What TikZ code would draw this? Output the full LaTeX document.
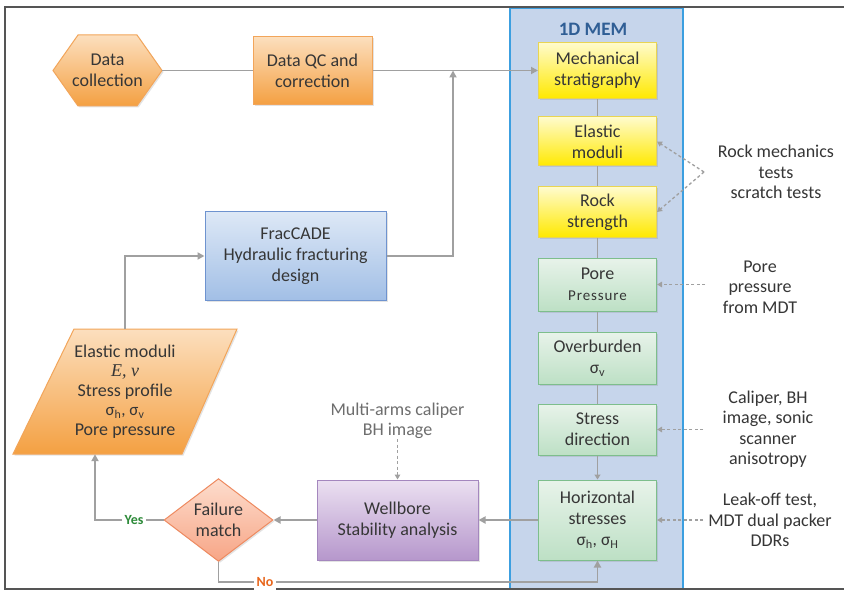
\documentclass[tikz,border=0pt]{standalone}
\usepackage{fontspec}
\setmainfont{Carlito}
\newfontfamily\serifit{Liberation Serif}
\usetikzlibrary{arrows.meta,shapes.geometric,shadows,calc}
\definecolor{txtC}{HTML}{363636}
\definecolor{grayT}{HTML}{6E6E6E}
\definecolor{lineC}{HTML}{A0A0A0}
\definecolor{frameC}{HTML}{555555}
\definecolor{orT}{HTML}{FCDFBE}
\definecolor{orB}{HTML}{F4A042}
\definecolor{orD}{HTML}{F2A55A}
\definecolor{yeT}{HTML}{FFFBCC}
\definecolor{yeB}{HTML}{FFE900}
\definecolor{yeD}{HTML}{E9D552}
\definecolor{grT}{HTML}{E8F3EA}
\definecolor{grB}{HTML}{BDE0C5}
\definecolor{grD}{HTML}{7DBE8C}
\definecolor{blT}{HTML}{DDE8F6}
\definecolor{blB}{HTML}{A2BFE6}
\definecolor{blD}{HTML}{6E93CF}
\definecolor{puT}{HTML}{EBE0F1}
\definecolor{puB}{HTML}{B697CC}
\definecolor{puD}{HTML}{A487BE}
\definecolor{diT}{HTML}{FDDDCD}
\definecolor{diB}{HTML}{F7A586}
\definecolor{diD}{HTML}{EE8A60}
\definecolor{memF}{HTML}{C6D5EB}
\definecolor{memD}{HTML}{3C9FE0}
\definecolor{memT}{HTML}{2F5E95}
\definecolor{yesC}{HTML}{2E8B3A}
\definecolor{noC}{HTML}{E8661C}
\begin{document}
\begin{tikzpicture}[x=1pt,y=-1pt,
  conn/.style={draw=lineC, line width=1.8pt},
  arr/.style={conn, -{Triangle[length=7pt,width=7pt]}},
  sarr/.style={conn, -{Triangle[length=5pt,width=6pt]}},
  darr/.style={draw=lineC, line width=1.3pt, dash pattern=on 3pt off 2.5pt, -{Triangle[length=5pt,width=5.5pt]}},
  shad/.style={drop shadow={opacity=0.22, shadow xshift=1.5pt, shadow yshift=-1.5pt}},
  bx/.style={draw, line width=1pt, align=center, text=txtC, font=\fontsize{18}{21}\selectfont, inner sep=2pt, shad},
  orbox/.style={bx, top color=orT, bottom color=orB, draw=orD},
  yebox/.style={bx, top color=yeT, bottom color=yeB, draw=yeD, minimum width=118pt},
  grbox/.style={bx, top color=grT, bottom color=grB, draw=grD, minimum width=118pt},
  blbox/.style={bx, top color=blT, bottom color=blB, draw=blD},
  pubox/.style={bx, top color=puT, bottom color=puB, draw=puD},
  dibox/.style={bx, diamond, top color=diT, bottom color=diB, draw=diD, inner sep=0pt},
  txtonly/.style={align=center, text=txtC, font=\fontsize{18}{21}\selectfont, inner sep=0pt},
  lbl/.style={align=center, text=txtC, font=\fontsize{18}{20.5}\selectfont, inner sep=0pt},
  yesno/.style={fill=white, inner sep=3pt, font=\bfseries\fontsize{14}{16}\selectfont}
]
\useasboundingbox (0,0) rectangle (844,591);
\fill[white] (0,0) rectangle (844,591);

% 1D MEM band
\node[draw=memD, fill=memF, line width=1.2pt, minimum width=173pt, minimum height=581pt, inner sep=0pt] (mem) at (596.5,298.5) {};
\node[font=\bfseries\fontsize{19}{22}\selectfont, text=memT] (memt) at (593,29) {1D MEM};

% frame
\draw[frameC, line width=2pt] (844,7) -- (5,7) -- (5,589) -- (844,589);

% Data collection hexagon
\path[top color=orT, bottom color=orB, draw=orD, line width=1pt, shad]
  (53,70.5) -- (78,35) -- (137,35) -- (162,70.5) -- (137,106) -- (78,106) -- cycle;
\node[txtonly, minimum width=109pt, minimum height=71pt] (dc) at (107.5,70.5) {Data\\collection};

% Data QC
\node[orbox, minimum width=119pt, minimum height=68pt] (qc) at (312.5,70.5) {Data QC and\\correction};

% FracCADE
\node[blbox, minimum width=181pt, minimum height=88pt] (frac) at (295.5,256) {FracCADE\\Hydraulic fracturing\\design};

% Parallelogram
\path[top color=orT, bottom color=orB, draw=orD, line width=1pt, shad]
  (74,329) -- (237,329) -- (182,454) -- (13,454) -- cycle;
\node[txtonly, minimum width=120pt, minimum height=125pt, font=\fontsize{18}{19.5}\selectfont] (par) at (125,391.5)
  {Elastic moduli\\{\serifit\itshape E, ν}\\Stress profile\\{\fontsize{17}{19.5}\selectfont σ\textsubscript{h}, σ\textsubscript{v}}\\Pore pressure};

% Failure match
\node[dibox, minimum width=109pt, minimum height=82pt] (fm) at (218.5,520) {Failure\\match};

% Wellbore
\node[pubox, minimum width=161pt, minimum height=80pt] (wb) at (397.5,520) {Wellbore\\Stability analysis};

% MEM boxes
\node[yebox, minimum height=56pt] (ms) at (597.5,70.5) {Mechanical\\stratigraphy};
\node[yebox, minimum height=49pt] (em) at (597.5,141.5) {Elastic\\moduli};
\node[yebox, minimum height=50pt] (rs) at (597.5,212) {Rock\\strength};
\node[grbox, minimum height=53pt] (pp) at (597.5,284.5) {Pore\\{\fontsize{15}{19}\selectfont\addfontfeature{LetterSpace=6}Pressure}};
\node[grbox, minimum height=52pt] (ob) at (597.5,358) {Overburden\\{\fontsize{17.5}{21}\selectfont σ\textsubscript{v}}};
\node[grbox, minimum height=51pt] (sd) at (597.5,429.5) {Stress\\direction};
\node[grbox, minimum height=80pt] (hs) at (597.5,520) {Horizontal\\stresses\\{\fontsize{17.5}{21}\selectfont σ\textsubscript{h}, σ\textsubscript{H}}};

% right labels
\node[lbl] (rm) at (776,172) {Rock mechanics\\tests\\scratch tests};
\node[lbl] (pm) at (760,287) {Pore\\pressure\\from MDT};
\node[lbl] (cal) at (768,429) {Caliper, BH\\image, sonic\\scanner\\anisotropy};
\node[lbl] (lk) at (770,520) {Leak-off test,\\MDT dual packer\\DDRs};
\node[lbl, text=grayT] (mc) at (397.5,421) {Multi-arms caliper\\BH image};

% coordinates
\coordinate (rmA) at (704,172);
\coordinate (ppS) at (705,284.5);
\coordinate (sdS) at (703,429.5);
\coordinate (hsS) at (703,520);
\coordinate (jn) at (453,70.5);
\coordinate (yc) at (95,520);
\coordinate (nc) at (218.5,582);

% connectors
\draw[conn] (dc.east) -- (qc.west);
\draw[arr] (qc.east) -- (ms.west);
\draw[arr] (frac.east) -| (jn);
\draw[arr] (par.north) |- (frac.west);
\draw[arr] (hs.west) -- (wb.east);
\draw[arr] (wb.west) -- (fm.east);
\draw[arr] (fm.west) -- node[yesno, text=yesC, pos=0.43] {Yes} (yc) -- (yc |- par.south);
\draw[arr] (fm.south) -- (nc) -- node[yesno, text=noC, pos=0.123] {No} (nc -| hs.south) -- (hs.south);

\draw[conn] (ms.south) -- (em.north);
\draw[conn] (em.south) -- (rs.north);
\draw[conn] (rs.south) -- (pp.north);
\draw[conn] (pp.south) -- (ob.north);
\draw[conn] (ob.south) -- (sd.north);
\draw[sarr] (sd.south) -- (hs.north);

\draw[darr] (rmA) -- (em.east);
\draw[darr] (rmA) -- (rs.east);
\draw[darr] (ppS) -- (pp.east);
\draw[darr] (sdS) -- (sd.east);
\draw[darr] (hsS) -- (hs.east);
\draw[darr] (mc.south) -- (wb.north);
\end{tikzpicture}
\end{document}
